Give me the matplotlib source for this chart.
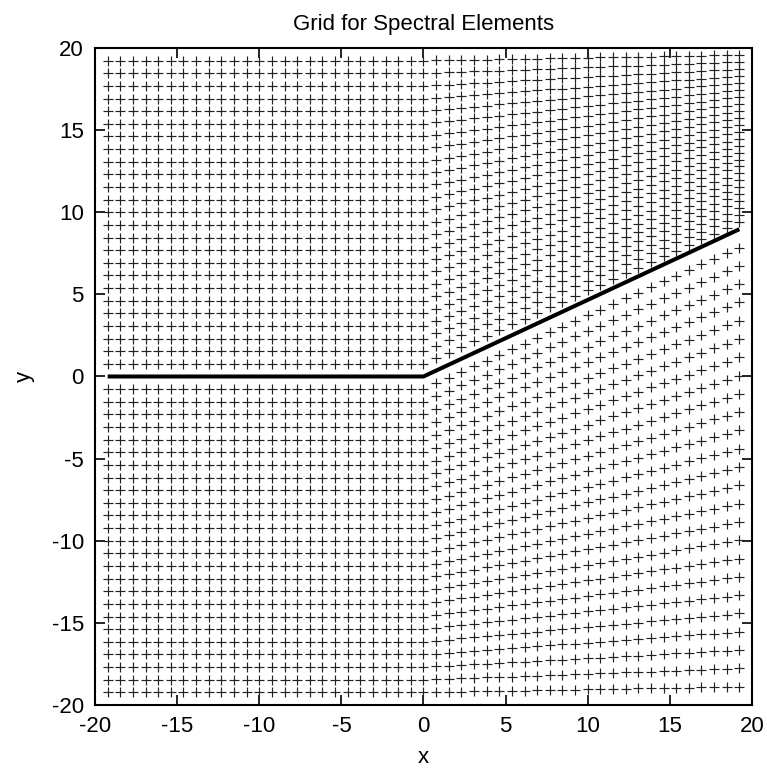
import numpy as np
from matplotlib import pyplot as plt

plt.rcParams['axes.unicode_minus'] = False
plt.rcParams['font.family'] = ['Liberation Sans', 'DejaVu Sans']

# grid description
half_width = 20.0          # domain is [-20, 20] x [-20, 20]
n_cells = 26               # cells per half-direction
wedge_angle = 25.0         # degrees, slope of the boundary for x > 0
tick_values = [-20, -15, -10, -5, 0, 5, 10, 15, 20]

dx = half_width / n_cells
cols = dx * np.arange(-(n_cells - 1), n_cells)      # column x positions
frac = np.arange(1, n_cells) / n_cells               # interior row fractions

# boundary line
slope = np.tan(np.radians(wedge_angle))
bx = np.array([cols[0], 0.0, cols[-1]])
by = np.where(bx > 0, bx * slope, 0.0)

px, py = [], []
for x in cols:
    y0 = x * slope if x > 0 else 0.0
    up = y0 + (half_width - y0) * frac
    lo = y0 - (y0 + half_width) * frac
    px.extend([x] * (len(up) + len(lo)))
    py.extend(list(up) + list(lo))

fig = plt.figure(figsize=(7.67, 7.73), dpi=100)
ax = fig.add_axes([0.1239, 0.0880, 0.8565, 0.8499])

ax.plot(px, py, linestyle='none', marker='+', markersize=7,
        markeredgewidth=0.85, color='#222222')
ax.plot(bx, by, color='black', linewidth=2.9, solid_capstyle='butt')

ax.set_xlim(-20, 20)
ax.set_ylim(-20, 20)
ax.set_xticks(tick_values)
ax.set_yticks(tick_values)
ax.tick_params(direction='in', length=7, width=1.2, top=True, right=True,
               labelsize=16, pad=8)
for s in ax.spines.values():
    s.set_linewidth(1.5)

ax.set_xlabel("x", fontsize=16, labelpad=7)
ax.set_ylabel("y", fontsize=16, labelpad=12)
ax.set_title("Grid for Spectral Elements", fontsize=16, pad=13)

fig.savefig("out.png", dpi=100)
